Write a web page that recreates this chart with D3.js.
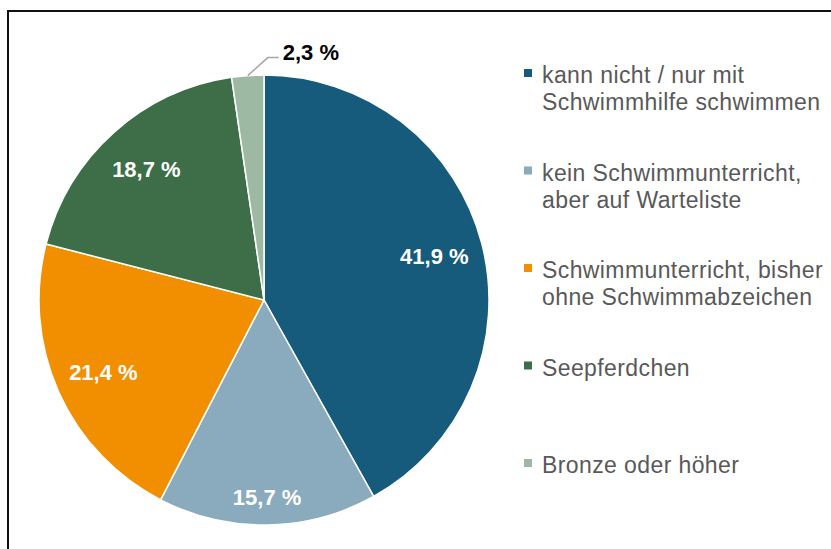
<!DOCTYPE html>
<html>
<head>
<meta charset="utf-8">
<script src="https://cdn.jsdelivr.net/npm/d3@7"></script>
<style>
  html, body { margin: 0; padding: 0; background: #fff; }
  svg { display: block; font-family: "Liberation Sans", Arial, sans-serif; }
</style>
</head>
<body>
<div id="chart"></div>
<script>
// Kategorien und Anteile (in Prozent), im Uhrzeigersinn ab 12 Uhr
const categories = [
    ['kann nicht / nur mit', 'Schwimmhilfe schwimmen'],
    ['kein Schwimmunterricht,', 'aber auf Warteliste'],
    ['Schwimmunterricht, bisher', 'ohne Schwimmabzeichen'],
    ['Seepferdchen'],
    ['Bronze oder höher']
];
const values = [41.9, 15.7, 21.4, 18.7, 2.3];
const colors = ['#165a7c', '#8aaabe', '#f28f00', '#3d6e47', '#9db8a3'];

const width = 831, height = 549;
const cx = 264, cy = 300, radius = 225;

const fmt = v => d3.format('.1f')(v).replace('.', ',') + ' %';

const svg = d3.select('#chart').append('svg')
    .attr('width', width)
    .attr('height', height);

// Rahmen (nur links und oben sichtbar)
svg.append('rect')
    .attr('x', 8).attr('y', 11)
    .attr('width', width + 20).attr('height', height + 20)
    .attr('fill', 'none')
    .attr('stroke', '#111')
    .attr('stroke-width', 2);

const items = categories.map((c, i) => ({ lines: c, value: values[i], color: colors[i], index: i }));

const pie = d3.pie().sort(null).value(d => d.value);
const arcs = pie(items);
const arc = d3.arc().innerRadius(0).outerRadius(radius);

const g = svg.append('g').attr('transform', `translate(${cx},${cy})`);

g.selectAll('path.slice')
    .data(arcs)
    .join('path')
    .attr('class', 'slice')
    .attr('d', arc)
    .attr('fill', d => d.data.color)
    .attr('stroke', '#fff')
    .attr('stroke-width', 1.5);

// Beschriftungen innerhalb der Segmente
const inner = arcs.filter(d => d.data.value > 5);
const labelR = d => d.data.index === 1 ? 197 : 176;

g.selectAll('text.inner')
    .data(inner)
    .join('text')
    .attr('class', 'inner')
    .attr('x', d => labelR(d) * Math.sin((d.startAngle + d.endAngle) / 2))
    .attr('y', d => -labelR(d) * Math.cos((d.startAngle + d.endAngle) / 2))
    .attr('dy', '0.36em')
    .attr('text-anchor', 'middle')
    .attr('fill', '#fff')
    .attr('font-size', 22)
    .attr('font-weight', 'bold')
    .text(d => fmt(d.data.value));

// kleines Segment mit Führungslinie
const small = arcs.filter(d => d.data.value <= 5);
small.forEach(d => {
    const a = (d.startAngle + d.endAngle) / 2;
    const p0 = [radius * Math.sin(a), -radius * Math.cos(a)];
    const p1 = [p0[0] + 20, p0[1] - 18];
    const p2 = [p1[0] + 11, p1[1]];
    g.append('path')
        .attr('d', d3.line()([p0, p1, p2]))
        .attr('fill', 'none')
        .attr('stroke', '#a6a6a6')
        .attr('stroke-width', 1.5);
    g.append('text')
        .attr('x', p2[0] + 4)
        .attr('y', p2[1] + 2)
        .attr('fill', '#000')
        .attr('font-size', 22)
        .attr('font-weight', 'bold')
        .text(fmt(d.data.value));
});

// Legende
const legendY = d3.scalePoint()
    .domain(items.map(d => d.index))
    .range([83, 473]);

const legend = svg.append('g')
    .selectAll('g')
    .data(items)
    .join('g')
    .attr('transform', d => `translate(524,${legendY(d.index)})`);

legend.append('rect')
    .attr('x', 0).attr('y', -14)
    .attr('width', 8).attr('height', 8)
    .attr('fill', d => d.color);

legend.append('text')
    .attr('fill', '#595959')
    .attr('font-size', 23)
    .attr('letter-spacing', 0.4)
    .selectAll('tspan')
    .data(d => d.lines)
    .join('tspan')
    .attr('x', 18)
    .attr('y', (t, i) => i * 27)
    .text(t => t);
</script>
</body>
</html>
